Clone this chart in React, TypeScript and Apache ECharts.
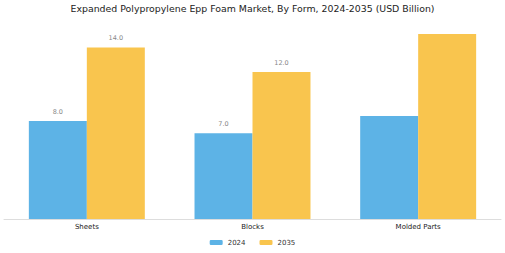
import React, { useEffect, useRef } from "react";
import * as echarts from "echarts";

const categories = ["Sheets", "Blocks", "Molded Parts"];
const values2024 = [8.0, 7.0, 8.4];
const values2035 = [14.0, 12.0, 15.1];
const labeled = [true, true, false];

export default function App() {
  const ref = useRef<HTMLDivElement>(null);
  useEffect(() => {
    if (!ref.current) return;
    const chart = echarts.init(ref.current, null, { renderer: "svg" });
    const mk = (vals: number[]) =>
      vals.map((v, i) => ({
        value: v,
        label: { show: labeled[i] },
      }));
    const labelStyle = {
      position: "top" as const,
      distance: 6,
      color: "#888",
      fontSize: 6.5,
      fontFamily: "DejaVu Sans",
      formatter: (p: any) => Number(p.value).toFixed(1),
    };
    chart.setOption({
      animation: false,
      title: {
        text: "Expanded Polypropylene Epp Foam Market, By Form, 2024-2035 (USD Billion)",
        left: "center",
        top: 0,
        padding: [4, 5, 4, 5],
        textStyle: { fontSize: 9.4, fontWeight: "normal", color: "#222", fontFamily: "DejaVu Sans" },
      },
      legend: {
        bottom: 2,
        left: "center",
        itemWidth: 13,
        itemHeight: 5,
        itemGap: 14,
        textStyle: { fontSize: 7, color: "#333", fontFamily: "DejaVu Sans" },
        data: ["2024", "2035"],
      },
      grid: { left: 4, right: 4, top: 23, bottom: 34, containLabel: false },
      xAxis: {
        type: "category",
        data: categories,
        axisTick: { show: false },
        axisLine: { lineStyle: { color: "#ddd" } },
        axisLabel: { fontSize: 7, color: "#222", margin: 4, fontFamily: "DejaVu Sans" },
      },
      yAxis: { type: "value", min: 0, max: 16, show: false, splitLine: { show: false } },
      series: [
        {
          name: "2024",
          type: "bar",
          data: mk(values2024),
          barWidth: "35%",
          barGap: "0%",
          itemStyle: { color: "#5DB3E6" },
          label: labelStyle,
        },
        {
          name: "2035",
          type: "bar",
          data: mk(values2035),
          barWidth: "35%",
          itemStyle: { color: "#F9C54E" },
          label: labelStyle,
        },
      ],
    });
    return () => chart.dispose();
  }, []);
  return (
    <div
      ref={ref}
      style={{ position: "absolute", left: 0, top: 0, width: 505, height: 253 }}
    />
  );
}
